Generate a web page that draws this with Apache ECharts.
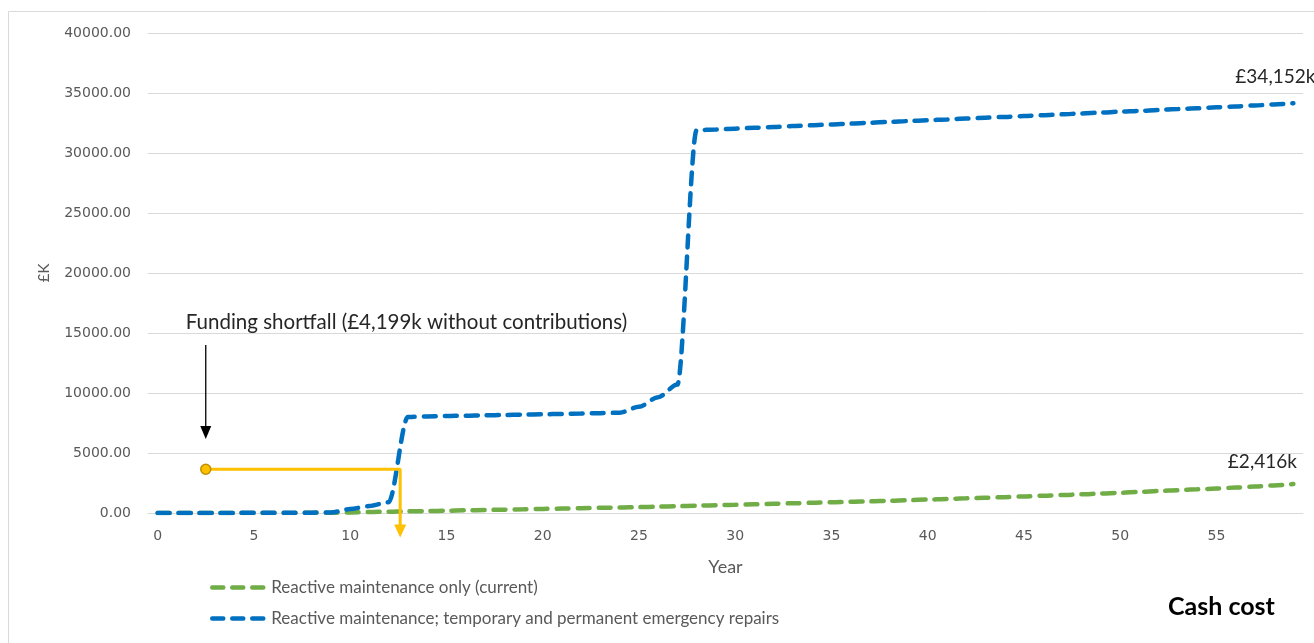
<!DOCTYPE html>
<html>
<head>
<meta charset="utf-8">
<script src="https://cdn.jsdelivr.net/npm/echarts@6/dist/echarts.min.js"></script>
<style>
  html, body { margin: 0; padding: 0; background: #fff; }
  #chart { width: 1314px; height: 643px; }
</style>
</head>
<body>
<div id="chart"></div>
<script>
// Years on the horizontal axis
const years = [
  0, 1, 2, 3, 4, 5, 6, 7, 8, 9,
  10, 11, 12, 13, 14, 15, 16, 17, 18, 19,
  20, 21, 22, 23, 24, 25, 26, 27, 28, 29,
  30, 31, 32, 33, 34, 35, 36, 37, 38, 39,
  40, 41, 42, 43, 44, 45, 46, 47, 48, 49,
  50, 51, 52, 53, 54, 55, 56, 57, 58, 59
];

// Cumulative cash cost (£K): reactive maintenance only (current)
const reactiveOnly = [
  0, 0, 0, 0, 5, 5, 10, 10, 15, 20,
  50, 80, 110, 140, 160, 190, 220, 250, 280, 310,
  340, 370, 400, 430, 460, 490, 530, 570, 610, 650,
  690, 730, 770, 810, 850, 890, 930, 970, 1020, 1070,
  1120, 1170, 1220, 1270, 1320, 1380, 1440, 1500, 1560, 1620,
  1690, 1760, 1830, 1900, 1970, 2040, 2120, 2200, 2300, 2416
];

// Cumulative cash cost (£K): reactive maintenance plus emergency repairs
const withEmergency = [
  0, 0, 0, 10, 10, 20, 20, 30, 30, 40,
  330, 580, 900, 8000, 8050, 8080, 8110, 8140, 8170, 8200,
  8230, 8260, 8290, 8320, 8360, 8850, 9650, 10700, 31900, 31960,
  32030, 32100, 32170, 32240, 32310, 32380, 32450, 32520, 32590, 32660,
  32730, 32800, 32870, 32940, 33010, 33080, 33150, 33220, 33300, 33370,
  33440, 33510, 33590, 33660, 33730, 33810, 33880, 33960, 34050, 34152
];

// Funding shortfall marker: [year, £K] from start point, across, then down past the axis
const shortfallPath = [[2.5, 3650], [12.6, 3650], [12.6, -1500]];
// Pointer arrow under the shortfall note
const notePointer = [[2.5, 14000], [2.5, 6700]];

const seriesNames = [
  'Reactive maintenance only (current)',
  'Reactive maintenance; temporary and permanent emergency repairs'
];
const endLabels = ['£2,416k', '£34,152k'];
const noteText = 'Funding shortfall (£4,199k without contributions)';

const labelFont = 'DejaVu Sans';
const textFont = 'Lato';
const grey = '#595959';
const dash = [12, 9];

const chart = echarts.init(document.getElementById('chart'));

// Puts a text label on the last point of a series
function withEndLabel(values, text, offset) {
  return values.map((v, i) => i === values.length - 1 ? {
    value: v,
    symbol: 'circle',
    symbolSize: 0.01,
    label: {
      show: true, position: 'top', formatter: text, offset: offset,
      fontFamily: textFont, fontSize: 19, color: '#262626'
    }
  } : v);
}

chart.setOption({
  animation: false,
  backgroundColor: '#ffffff',
  grid: { left: 148, right: 11, top: 33, bottom: 130, containLabel: false },
  xAxis: [
    {
      type: 'category',
      data: years,
      boundaryGap: true,
      name: 'Year',
      nameLocation: 'middle',
      nameGap: 45,
      nameTextStyle: { fontFamily: textFont, fontSize: 18, color: grey },
      axisLine: { show: true, lineStyle: { color: '#d9d9d9', width: 1 } },
      axisTick: { show: false },
      axisLabel: {
        interval: 4, margin: 16, color: grey,
        fontFamily: labelFont, fontSize: 14
      },
      splitLine: { show: false }
    },
    {
      type: 'value',
      min: -0.5, max: 59.5,
      show: false
    }
  ],
  yAxis: {
    type: 'value',
    min: 0, max: 40000, interval: 5000,
    name: '£K',
    nameLocation: 'middle',
    nameRotate: 90,
    nameGap: 96,
    nameTextStyle: { fontFamily: textFont, fontSize: 15, color: grey },
    axisLine: { show: false },
    axisTick: { show: false },
    axisLabel: {
      margin: 17, color: grey, fontFamily: labelFont, fontSize: 14,
      formatter: v => v.toFixed(2)
    },
    splitLine: { lineStyle: { color: '#d9d9d9', width: 1 } }
  },
  legend: {
    data: seriesNames,
    orient: 'vertical',
    left: 205,
    top: 574,
    itemWidth: 54,
    itemHeight: 14,
    itemGap: 14,
    itemStyle: { opacity: 0 },
    lineStyle: { width: 4.5, type: [11, 9], cap: 'round' },
    textStyle: { fontFamily: textFont, fontSize: 17, color: grey }
  },
  series: [
    {
      name: seriesNames[0],
      type: 'line',
      data: withEndLabel(reactiveOnly, endLabels[0], [-31, -8]),
      smooth: 0.3,
      smoothMonotone: 'x',
      symbol: 'none',
      z: 2,
      lineStyle: { color: '#70AD47', width: 4.5, type: dash, cap: 'round' },
      itemStyle: { color: '#70AD47' }
    },
    {
      name: seriesNames[1],
      type: 'line',
      data: withEndLabel(withEmergency, endLabels[1], [-18, -12]),
      smooth: 0.3,
      smoothMonotone: 'x',
      symbol: 'none',
      z: 3,
      lineStyle: { color: '#0070C0', width: 4.5, type: dash, cap: 'round' },
      itemStyle: { color: '#0070C0' }
    },
    {
      name: 'shortfall',
      type: 'line',
      xAxisIndex: 1,
      clip: false,
      z: 4,
      data: [
        { value: shortfallPath[0], symbol: 'circle', symbolSize: 10,
          itemStyle: { color: '#FFC000', borderColor: '#BF9000', borderWidth: 1.5 } },
        { value: shortfallPath[1], symbol: 'none' },
        { value: shortfallPath[2], symbol: 'triangle', symbolRotate: 180, symbolSize: [12, 13],
          itemStyle: { color: '#FFC000', borderWidth: 0 } }
      ],
      lineStyle: { color: '#FFC000', width: 3 }
    },
    {
      name: 'note',
      type: 'line',
      xAxisIndex: 1,
      clip: false,
      z: 4,
      data: [
        { value: notePointer[0], symbol: 'circle', symbolSize: 0.01,
          label: {
            show: true, position: 'top', align: 'left', offset: [-20, -7],
            formatter: noteText, fontFamily: textFont, fontSize: 20.5, color: '#262626'
          } },
        { value: notePointer[1], symbol: 'triangle', symbolRotate: 180, symbolSize: [11, 13],
          itemStyle: { color: '#000000', borderWidth: 0 } }
      ],
      lineStyle: { color: '#000000', width: 1.3 }
    }
  ],
  graphic: [
    {
      type: 'rect',
      shape: { x: 8.5, y: 11.5, width: 1400, height: 700 },
      style: { fill: null, stroke: '#d9d9d9', lineWidth: 1 },
      silent: true, z: -1
    },
    {
      type: 'text',
      left: 1168, top: 594,
      style: {
        text: 'Cash cost', fontFamily: textFont, fontSize: 25,
        fontWeight: 'bold', fill: '#000000'
      }
    }
  ]
});
</script>
</body>
</html>
